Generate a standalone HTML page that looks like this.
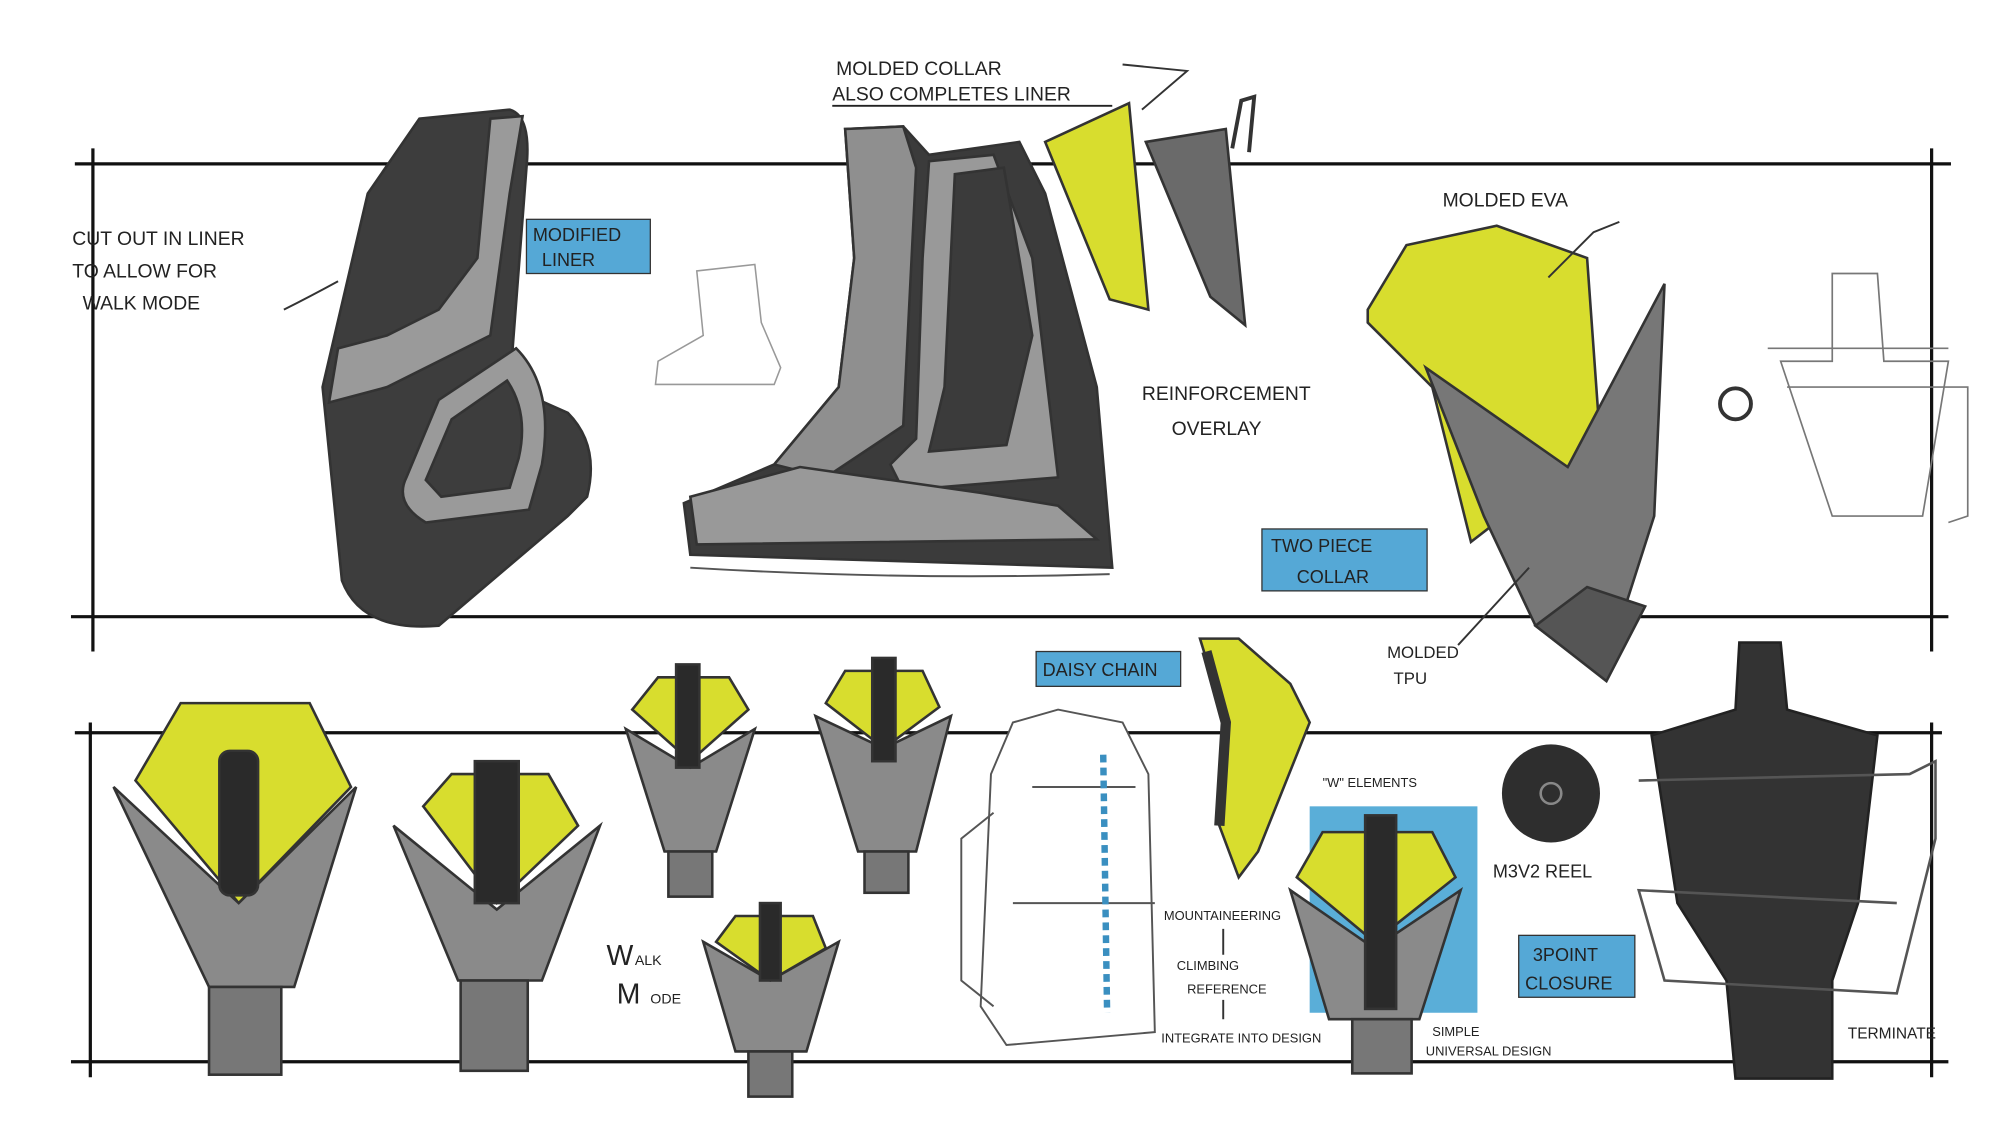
<!DOCTYPE html>
<html><head><meta charset="utf-8"><style>
html,body{margin:0;padding:0;background:#fff;}
svg{display:block;}
text{font-family:"Liberation Sans",sans-serif;fill:#222;}
</style></head><body>
<svg width="2000" height="1125" viewBox="0 0 1550 872" preserveAspectRatio="none" xmlns="http://www.w3.org/2000/svg">
<g stroke="#111" stroke-width="2.5" fill="none">
<line x1="58" y1="127" x2="1512" y2="127"/><line x1="55" y1="478" x2="1510" y2="478"/>
<line x1="72" y1="115" x2="72" y2="505"/><line x1="1497" y1="115" x2="1497" y2="505"/>
<line x1="58" y1="568" x2="1505" y2="568"/><line x1="55" y1="823" x2="1510" y2="823"/>
<line x1="70" y1="560" x2="70" y2="835"/><line x1="1497" y1="560" x2="1497" y2="835"/>
</g>
<!-- left liner -->
<g stroke="#333" stroke-width="2">
<path d="M325,92 L395,85 Q412,90 408,130 L395,300 L440,320 Q465,345 455,385 L440,400 L340,485 Q280,490 265,450 L250,300 L285,150 Z" fill="#3d3d3d"/>
<path d="M380,92 L405,90 L395,150 L380,260 Q340,280 300,300 L255,312 L262,270 L300,260 L340,240 L370,200 Z" fill="#9a9a9a"/>
<path d="M340,310 L400,270 Q430,300 420,360 L410,395 L330,405 Q305,390 315,370 Z" fill="#9a9a9a"/>
<path d="M350,325 L393,295 Q410,320 402,355 L395,378 L342,385 L330,372 Z" fill="#3d3d3d"/>
</g>
<!-- small boot sketch -->
<path d="M540,210 L585,205 L590,250 L605,285 L600,298 L508,298 L510,280 L545,260 Z" fill="none" stroke="#999" stroke-width="1.2"/>
<!-- middle boot -->
<g stroke="#333" stroke-width="2">
<path d="M655,100 L700,98 L720,120 L790,110 L810,150 L850,300 L862,440 L535,430 L530,390 L600,360 L650,300 L662,200 Z" fill="#3b3b3b"/>
<path d="M655,100 L700,98 L710,130 L700,330 L640,370 L600,360 L650,300 L662,200 Z" fill="#8f8f8f"/>
<path d="M720,125 L770,120 L800,200 L820,370 L700,380 L690,360 L710,340 L715,200 Z" fill="#999"/>
<path d="M740,135 L778,130 L800,260 L780,345 L720,350 L732,300 Z" fill="#3b3b3b"/>
<path d="M535,385 L620,362 L760,382 L820,392 L850,418 L540,422 Z" fill="#999"/>
</g>
<path d="M535,440 Q700,450 860,445" stroke="#555" fill="none" stroke-width="1.5"/>
<!-- collar pieces -->
<path d="M810,110 L875,80 L890,240 L860,232 Z" fill="#d8dd2e" stroke="#333" stroke-width="2"/>
<path d="M888,110 L950,100 L965,252 L938,230 Z" fill="#6a6a6a" stroke="#333" stroke-width="2"/>
<path d="M955,115 L962,78 L972,75 L968,118" fill="none" stroke="#333" stroke-width="3"/>
<!-- molded EVA -->
<path d="M1060,240 L1090,190 L1160,175 L1230,200 L1240,340 L1215,362 L1140,420 L1110,300 L1060,250 Z" fill="#d8dd2e" stroke="#333" stroke-width="2"/>
<path d="M1105,285 L1215,362 L1290,220 L1282,400 L1242,525 L1190,485 L1150,400 Z" fill="#777" stroke="#333" stroke-width="2"/>
<path d="M1190,485 L1230,455 L1275,470 L1245,528 Z" fill="#555" stroke="#333" stroke-width="2"/>
<!-- right sketch -->
<g fill="none" stroke="#777" stroke-width="1.3">
<path d="M1420,212 L1455,212 L1460,280 L1510,280 L1490,400 L1420,400 L1380,280 L1420,280 Z"/>
<path d="M1370,270 L1510,270 M1385,300 L1525,300 L1525,400 L1510,405"/>
<circle cx="1345" cy="313" r="12" stroke="#333" stroke-width="3"/>
</g>
<!-- bottom shields -->
<g stroke="#333" stroke-width="2">
<path d="M105,605 L140,545 L240,545 L272,610 L185,700 Z" fill="#d8dd2e"/>
<path d="M88,610 L185,700 L276,610 L228,765 L162,765 Z" fill="#8a8a8a"/>
<rect x="162" y="765" width="56" height="68" fill="#777"/>
<rect x="170" y="582" width="30" height="112" rx="8" fill="#2a2a2a"/>
<path d="M328,625 L350,600 L425,600 L448,640 L385,700 Z" fill="#d8dd2e"/>
<path d="M305,640 L385,705 L465,640 L420,760 L355,760 Z" fill="#8a8a8a"/>
<rect x="357" y="760" width="52" height="70" fill="#777"/>
<rect x="368" y="590" width="34" height="110" fill="#2a2a2a"/>
<path d="M490,550 L510,525 L565,525 L580,550 L535,590 Z" fill="#d8dd2e"/>
<path d="M485,565 L535,595 L585,565 L555,660 L515,660 Z" fill="#8a8a8a"/>
<rect x="518" y="660" width="34" height="35" fill="#777"/><rect x="524" y="515" width="18" height="80" fill="#2a2a2a"/>
<path d="M640,545 L655,520 L715,520 L728,548 L685,580 Z" fill="#d8dd2e"/>
<path d="M632,555 L685,580 L737,555 L710,660 L665,660 Z" fill="#8a8a8a"/>
<rect x="670" y="660" width="34" height="32" fill="#777"/><rect x="676" y="510" width="18" height="80" fill="#2a2a2a"/>
<path d="M555,730 L570,710 L630,710 L640,735 L597,760 Z" fill="#d8dd2e"/>
<path d="M545,730 L597,760 L650,730 L625,815 L570,815 Z" fill="#8a8a8a"/>
<rect x="580" y="815" width="34" height="35" fill="#777"/><rect x="589" y="700" width="16" height="60" fill="#2a2a2a"/>
</g>
<text x="470" y="748" font-size="22">W</text><text x="492" y="748" font-size="11">ALK</text>
<text x="478" y="778" font-size="22">M</text><text x="504" y="778" font-size="11">ODE</text>
<!-- backpack -->
<g fill="#fff" stroke="#555" stroke-width="1.5">
<path d="M785,560 L820,550 L870,560 L890,600 L895,800 L780,810 L760,780 L768,600 Z"/>
<path d="M770,630 L745,650 L745,760 L770,780" fill="none"/>
<path d="M785,700 L895,700 M800,610 L880,610" fill="none"/>
</g>
<path d="M855,585 L858,785" stroke="#3a8fc0" stroke-width="5" stroke-dasharray="6,4" fill="none"/>
<path d="M930,495 L960,495 L1000,530 L1015,560 L975,660 L960,680 L945,640 L950,560 Z" fill="#d8dd2e" stroke="#333" stroke-width="2"/>
<path d="M935,505 L950,560 L945,640" fill="none" stroke="#333" stroke-width="8"/>
<!-- blue square -->
<rect x="1015" y="625" width="130" height="160" fill="#5aaed8"/>
<g stroke="#333" stroke-width="2">
<path d="M1005,680 L1025,645 L1110,645 L1128,680 L1065,730 Z" fill="#d8dd2e"/>
<path d="M1000,690 L1065,735 L1132,690 L1100,790 L1030,790 Z" fill="#8a8a8a"/>
<rect x="1048" y="790" width="46" height="42" fill="#777"/><rect x="1058" y="632" width="24" height="150" fill="#2a2a2a"/>
</g>
<circle cx="1202" cy="615" r="38" fill="#2e2e2e"/>
<circle cx="1202" cy="615" r="8" fill="none" stroke="#888" stroke-width="2"/>
<!-- big dark right -->
<path d="M1348,498 L1380,498 L1385,550 L1455,570 L1440,700 L1420,760 L1420,836 L1345,836 L1338,760 L1300,700 L1280,570 L1345,550 Z" fill="#333" stroke="#222" stroke-width="2"/>
<path d="M1270,605 L1480,600 L1500,590 L1500,650 L1470,770 L1290,760 L1270,690 L1470,700" fill="none" stroke="#555" stroke-width="2"/>
<!-- blue labels -->
<g fill="#55a8d6" stroke="#333" stroke-width="1">
<rect x="408" y="170" width="96" height="42"/>
<rect x="978" y="410" width="128" height="48"/>
<rect x="803" y="505" width="112" height="27"/>
<rect x="1177" y="725" width="90" height="48"/>
</g>
<g font-size="14">
<text x="413" y="187">MODIFIED</text><text x="420" y="206">LINER</text>
<text x="985" y="428">TWO PIECE</text><text x="1005" y="452">COLLAR</text>
<text x="808" y="524">DAISY CHAIN</text>
<text x="1188" y="745">3POINT</text><text x="1182" y="767">CLOSURE</text>
</g>
<g font-size="15">
<text x="56" y="190">CUT OUT IN LINER</text><text x="56" y="215">TO ALLOW FOR</text><text x="64" y="240">WALK MODE</text>
<text x="648" y="58">MOLDED COLLAR</text><text x="645" y="78">ALSO COMPLETES LINER</text>
<text x="1118" y="160">MOLDED EVA</text>
<text x="885" y="310">REINFORCEMENT</text><text x="908" y="337">OVERLAY</text>
<text x="1075" y="510" font-size="13">MOLDED</text><text x="1080" y="530" font-size="13">TPU</text>
<text x="1157" y="680" font-size="14">M3V2 REEL</text>
<text x="1432" y="805" font-size="12">TERMINATE</text>
</g>
<g font-size="10">
<text x="1025" y="610">"W" ELEMENTS</text>
<text x="902" y="713">MOUNTAINEERING</text><text x="912" y="752">CLIMBING</text><text x="920" y="770">REFERENCE</text><text x="900" y="808">INTEGRATE INTO DESIGN</text>
<text x="1110" y="803">SIMPLE</text><text x="1105" y="818">UNIVERSAL DESIGN</text>
</g>
<line x1="645" y1="82" x2="862" y2="82" stroke="#222" stroke-width="1.5"/>
<g stroke="#333" stroke-width="1.5" fill="none">
<path d="M220,240 Q240,230 262,218"/><path d="M1200,215 L1235,180 L1255,172"/>
<path d="M870,50 L920,55 L885,85"/><path d="M1130,500 L1185,440"/>
<path d="M948,720 L948,740 M948,775 L948,790"/>
</g>
</svg>
</body></html>
